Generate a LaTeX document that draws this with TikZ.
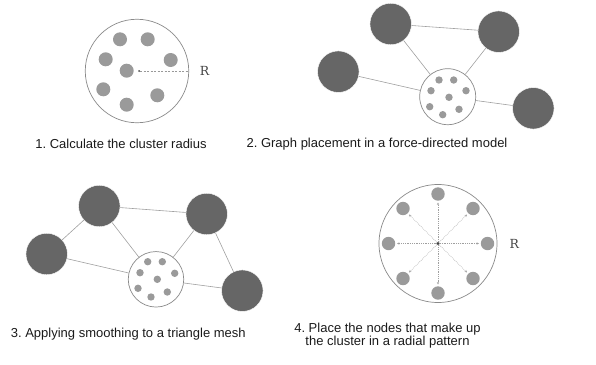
\documentclass[tikz,border=0pt]{standalone}
\usepackage{fontspec}
\setmainfont{Liberation Sans}
\newfontfamily\rfont{DejaVu Serif}
\usetikzlibrary{arrows.meta,calc}
\frenchspacing
\definecolor{heavy}{HTML}{666666}
\definecolor{member}{HTML}{9A9A9A}
\definecolor{rim}{HTML}{8A8A8A}
\definecolor{wire}{HTML}{A0A0A0}
\definecolor{captioncol}{HTML}{1A1A1A}
\definecolor{rcol}{HTML}{444444}
\tikzset{
  hub/.style={circle, fill=heavy, draw=white, line width=0.4pt, inner sep=0pt, minimum size=41.5pt},
  member/.style={circle, fill=member, inner sep=0pt, minimum size=14pt},
  tiny/.style={circle, fill=member, inner sep=0pt, minimum size=7.4pt},
  ring/.style={circle, draw=rim, line width=0.7pt, fill=white, inner sep=0pt},
  link/.style={draw=wire, line width=0.6pt},
  ray/.style={draw=gray!75, line width=0.45pt, dash pattern=on 0.7pt off 1.1pt,
              -{Stealth[length=2.4pt,width=2.2pt]}},
  captext/.style={font=\fontsize{13}{12.7}\selectfont, text=captioncol, align=center},
  rlabel/.style={font=\rfont\fontsize{12.5}{14}\selectfont, text=rcol}
}
\begin{document}
\begin{tikzpicture}[x=1pt,y=-1pt]
\useasboundingbox (0,0) rectangle (596,364);

% --- 1: cluster radius ---
\node[ring, minimum size=103.5pt] (c1) at (137,71) {};
\foreach \i/\p in {a/{(120,39.3)}, b/{(147.7,39.3)}, c/{(105.7,59.3)}, d/{(170.7,60)},
                   e/{(126.7,70.7)}, f/{(103.3,89.3)}, g/{(157.3,95.3)}, h/{(126.7,104.7)}}
  \node[member] (m1\i) at \p {};
\node[circle, fill=rcol, inner sep=0pt, minimum size=2pt] (o1) at (139,71) {};
\coordinate (c1r) at (c1.east);
\draw[gray!80, line width=0.5pt, dash pattern=on 2pt off 1.5pt] (o1) -- (c1r);
\node[rlabel] (r1) at (204.5,71) {R};
\node[captext] (t1) at (121,144.3) {1. Calculate the cluster radius};

% --- 2: force-directed placement ---
\node[hub] (a2) at (390.7,24) {};
\node[hub] (b2) at (498.7,31.7) {};
\node[hub] (c2) at (338.3,71.7) {};
\node[hub] (d2) at (533.3,108.3) {};
\node[ring, minimum size=56pt] (k2) at (447.7,96.7) {};
\foreach \i/\p in {a/{(439,80)}, b/{(453.7,80)}, c/{(431,90.7)}, d/{(466,90.7)},
                   e/{(449,97.3)}, f/{(429.7,106.7)}, g/{(459,109.3)}, h/{(442.7,114.7)}}
  \node[tiny] (m2\i) at \p {};
\draw[link] (a2) -- (b2);
\draw[link] (a2) -- (k2);
\draw[link] (b2) -- (k2);
\draw[link] (c2) -- (k2);
\draw[link] (k2) -- (d2);
\node[captext] (t2) at (377,144.3) {2. Graph placement in a force-directed model};

% --- 3: triangle mesh smoothing ---
\node[hub] (a3) at (99.3,206) {};
\node[hub] (b3) at (206.7,214) {};
\node[hub] (c3) at (46.7,254) {};
\node[hub] (d3) at (242.3,290.7) {};
\node[ring, minimum size=55.5pt] (k3) at (156,279.3) {};
\foreach \i/\p in {a/{(147.7,261.7)}, b/{(162.3,261.7)}, c/{(140,272.7)}, d/{(174.7,273.3)},
                   e/{(157.3,279.3)}, f/{(138,288.3)}, g/{(167.3,292)}, h/{(151,297)}}
  \node[tiny] (m3\i) at \p {};
\draw[link] (a3) -- (b3);
\draw[link] (a3) -- (c3);
\draw[link] (a3) -- (k3);
\draw[link] (b3) -- (k3);
\draw[link] (b3) -- (d3);
\draw[link] (c3) -- (k3);
\draw[link] (k3) -- (d3);
\node[captext] (t3) at (128.3,334.3) {3. Applying smoothing to a triangle mesh};

% --- 4: radial layout ---
\node[ring, minimum size=118pt] (c4) at (438,243.5) {};
\node[circle, fill=black!75, inner sep=0pt, minimum size=3.4pt] (o4) at (438,243.5) {};
\foreach \ang [count=\n] in {90,45,0,-45,-90,-135,180,135} {
  \node[member, minimum size=13.4pt] (m4\n) at ($(o4)+(\ang:49.5)$) {};
  \coordinate (e4\n) at ($(o4)+(\ang:41)$);
  \draw[ray] (o4) -- (e4\n);
}
\node[rlabel] (r4) at (514.3,244) {R};
\node[captext] (t4) at (387.5,335.3) {4. Place the nodes that make up\\the cluster in a radial pattern};
\end{tikzpicture}
\end{document}
